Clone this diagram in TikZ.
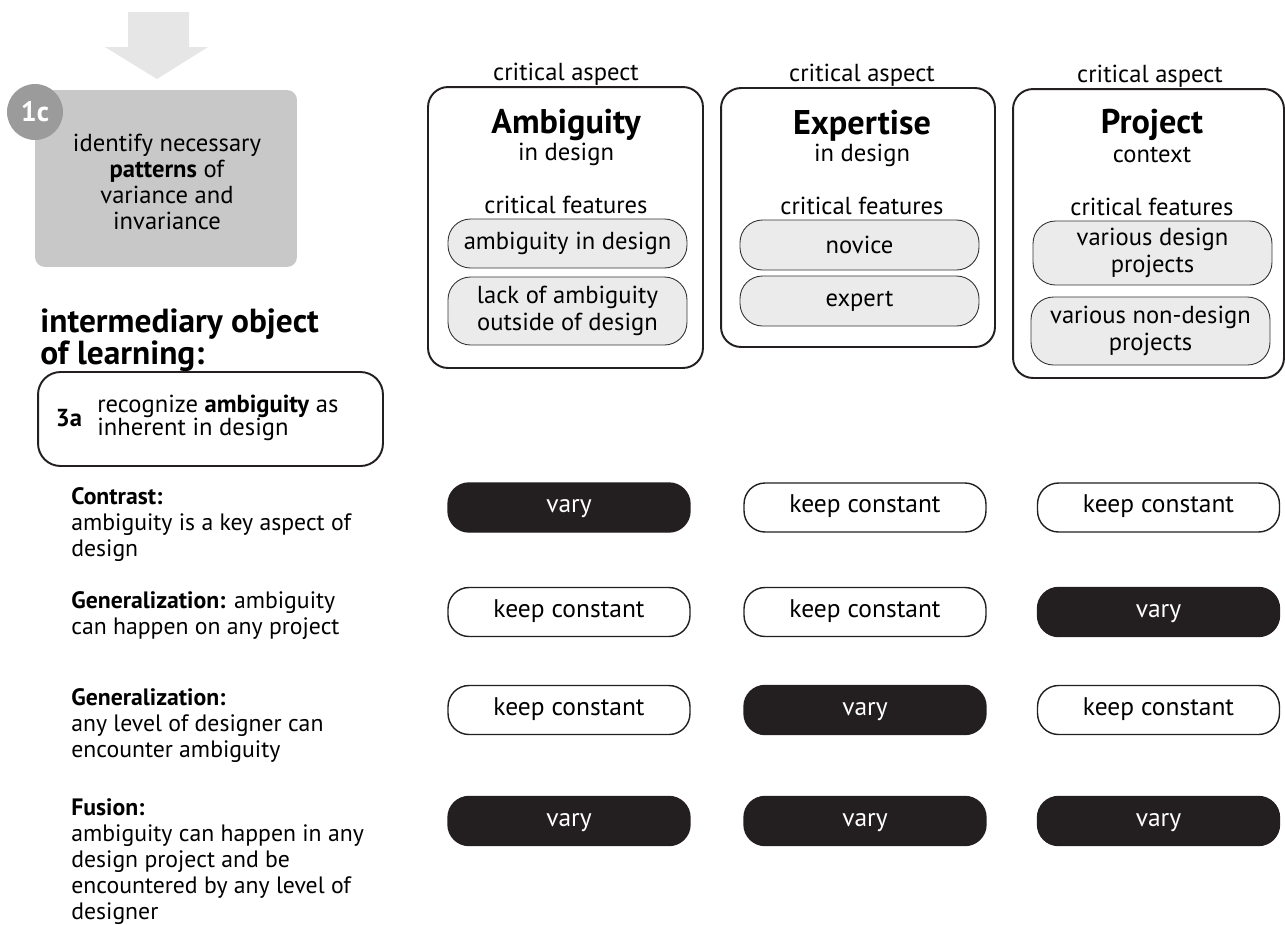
\documentclass[tikz,border=0pt]{standalone}
\usepackage{fontspec}
\setmainfont{PT Sans}
\definecolor{boxblack}{HTML}{231F20}
\definecolor{stepgray}{HTML}{C8C8C8}
\definecolor{badgegray}{HTML}{9B9B9B}
\definecolor{arrowgray}{HTML}{E6E6E6}
\definecolor{featuregray}{HTML}{EBEBEB}
\begin{document}
\begin{tikzpicture}%
	[x=0.02cm, y=-0.02cm,
	every node/.style={inner sep=0pt, font=\fontsize{13.5}{14.8}\selectfont},
	stepbox/.style={fill=stepgray, rounded corners=0.2cm, minimum width=5.24cm, minimum height=3.54cm},
	badge/.style={circle, fill=badgegray, minimum size=1.12cm, text=white, font=\fontsize{16}{16}\bfseries},
	objectbox/.style={draw=boxblack, line width=1.1pt, rounded corners=0.45cm, minimum width=6.9cm, minimum height=1.88cm},
	aspectbox/.style={draw=boxblack, line width=1.1pt, rounded corners=0.4cm},
	label/.style={anchor=base, font=\fontsize{14}{15}\selectfont},
	title/.style={anchor=base, font=\fontsize{19.5}{20}\bfseries},
	featurebox/.style={draw=black!80, line width=0.5pt, fill=featuregray, rounded corners=0.45cm, minimum width=4.78cm, align=center, font=\fontsize{14}{15.4}\selectfont},
	keepbox/.style={draw=boxblack, line width=0.8pt, rounded corners=0.42cm, minimum width=4.84cm, minimum height=0.98cm, text height=1.6ex, text depth=0.45ex, font=\fontsize{14.5}{15}\selectfont},
	varybox/.style={keepbox, fill=boxblack, text=white},
	caption/.style={align=left, anchor=north west}]
%
\useasboundingbox (0,0) rectangle (1285,924);
%%
%% Step 1c and the arrow into it
%%
\fill[arrowgray] (128,12) -- (189,12) -- (189,47) -- (208,47) -- (157,79) -- (105,47) -- (128,47) -- cycle;
\node[stepbox] (step) at (166,178.5) {};
\node[align=center, font=\fontsize{14}{14.8}\selectfont] (steptext) at (167,182)
	{identify necessary\\ \textbf{patterns} of\\ variance and\\ invariance};
\node[badge] (stepbadge) at (35,112) {1c};
%%
%% Intermediary object of learning
%%
\node[anchor=north west, align=left, font=\fontsize{19}{14.2}\bfseries] (objecthead) at (40,308)
	{intermediary object\\ of learning:};
\node[objectbox] (object) at (210.5,419) {};
\node[font=\fontsize{14}{14}\bfseries] (objectnum) at (69,418) {3a};
\node[anchor=west, align=left, font=\fontsize{14}{13}\selectfont] (objecttext) at (97,418)
	{recognize \textbf{ambiguity} as\\ inherent in design};
%%
%% Critical aspects and their features
%%
\node[label] (amblabel) at (566,80) {critical aspect};
\node[aspectbox, minimum width=5.5cm, minimum height=5.62cm] (ambbox) at (565.5,227.5) {};
\node[title] (ambtitle) at (566,133) {Ambiguity};
\node[label] (ambsub) at (566,160) {in design};
\node[label] (ambfeat) at (566,213) {critical features};
\node[featurebox, minimum height=0.98cm] (ambfeata) at (567.5,243.5) {ambiguity in design};
\node[featurebox, minimum height=1.36cm] (ambfeatb) at (567.5,311) {lack of ambiguity\\ outside of design};

\node[label] (explabel) at (862,81) {critical aspect};
\node[aspectbox, minimum width=5.48cm, minimum height=5.18cm] (expbox) at (858,217.5) {};
\node[title] (exptitle) at (862,134) {Expertise};
\node[label] (expsub) at (862,161) {in design};
\node[label] (expfeat) at (862,214) {critical features};
\node[featurebox, minimum height=1.0cm] (expfeata) at (859.5,245) {novice};
\node[featurebox, minimum height=1.0cm] (expfeatb) at (859.5,301) {expert};

\node[label] (projlabel) at (1150,82) {critical aspect};
\node[aspectbox, minimum width=5.42cm, minimum height=5.78cm] (projbox) at (1148.5,233.5) {};
\node[title] (projtitle) at (1152,133) {Project};
\node[label] (projsub) at (1152,162) {context};
\node[label] (projfeat) at (1152,215) {critical features};
\node[featurebox, minimum height=1.28cm] (projfeata) at (1152.5,253) {various design\\ projects};
\node[featurebox, minimum height=1.36cm] (projfeatb) at (1150.5,331) {various non-design\\ projects};
%%
%% Patterns of variation, one row each
%%
\node[caption] (contrast) at (71,487) {\textbf{Contrast:}\\ ambiguity is a key aspect of\\ design};
\node[varybox] (contrasta) at (569,507.5) {vary};
\node[keepbox] (contrastb) at (865,507.5) {keep constant};
\node[keepbox] (contrastc) at (1158.5,507.5) {keep constant};

\node[caption] (generala) at (71,591) {\textbf{Generalization:} ambiguity\\ can happen on any project};
\node[keepbox] (generalaa) at (569,612) {keep constant};
\node[keepbox] (generalab) at (865,612) {keep constant};
\node[varybox] (generalac) at (1158.5,612) {vary};

\node[caption] (generalb) at (71,688) {\textbf{Generalization:}\\ any level of designer can\\ encounter ambiguity};
\node[keepbox] (generalba) at (569,710) {keep constant};
\node[varybox] (generalbb) at (865,710) {vary};
\node[keepbox] (generalbc) at (1158.5,710) {keep constant};

\node[caption] (fusion) at (71,798) {\textbf{Fusion:}\\ ambiguity can happen in any\\ design project and be\\ encountered by any level of\\ designer};
\node[varybox] (fusiona) at (569,821) {vary};
\node[varybox] (fusionb) at (865,821) {vary};
\node[varybox] (fusionc) at (1158.5,821) {vary};
\end{tikzpicture}
\end{document}
